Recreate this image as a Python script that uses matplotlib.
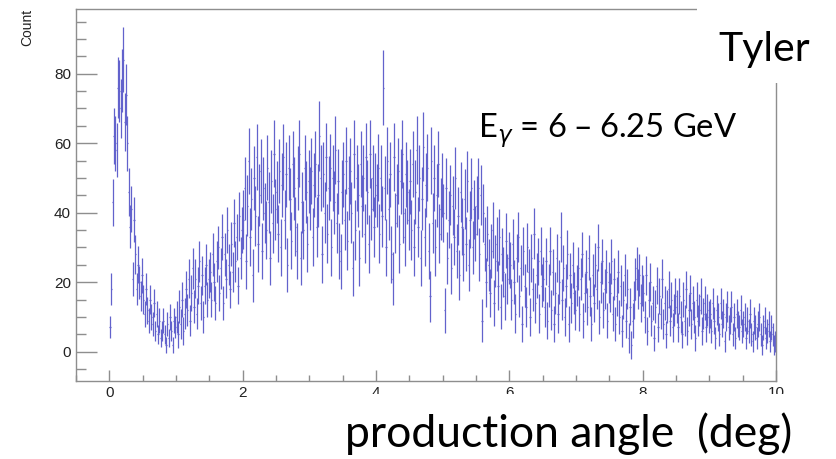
import numpy as np
import matplotlib
matplotlib.use("Agg")
import matplotlib.pyplot as plt
from matplotlib.patches import Rectangle
from matplotlib.ticker import MultipleLocator

# ---- data: counts per 0.02-deg bin ----
counts_0_1 = [7, 18, 43, 62, 60, 58, 76, 75, 70, 78, 84, 66, 74, 60, 46, 36, 41, 21, 38, 28, 18, 25, 20, 16, 22,
              15, 11, 18, 12, 9, 15, 10, 8, 14, 6, 11, 5, 9, 4, 6, 9, 5, 2, 8, 4, 10, 6, 2, 9, 7]
counts_1_2 = [10, 5, 13, 8, 15, 6, 11, 18, 12, 21, 9, 17, 24, 13, 21, 11, 19, 26, 14, 22, 10, 19, 25, 15, 21,
              23, 15, 28, 20, 14, 26, 30, 17, 24, 33, 14, 28, 21, 35, 25, 18, 31, 23, 37, 26, 33, 19, 39, 27, 35]
counts_2_3 = [38, 47, 26, 42, 55, 33, 44, 22, 50, 39, 56, 31, 45, 52, 29, 47, 40, 35, 53, 43, 27, 49, 37, 57, 41,
              46, 34, 52, 30, 48, 56, 38, 51, 25, 53, 44, 32, 54, 47, 36, 29, 50, 57, 27, 43, 35, 53, 46, 31, 49]
counts_3_4 = [44, 52, 33, 48, 54, 36, 45, 62, 50, 28, 51, 40, 56, 34, 47, 53, 30, 50, 43, 58, 37, 49, 29, 26, 46,
              51, 38, 55, 32, 47, 52, 40, 24, 57, 35, 50, 45, 27, 54, 42, 50, 34, 56, 46, 31, 57, 41, 50, 36, 48]
counts_4_5 = [45, 53, 34, 50, 39, 76, 47, 30, 55, 41, 51, 28, 21, 56, 37, 45, 52, 31, 49, 57, 40, 33, 51, 46, 38,
              49, 35, 54, 30, 46, 58, 36, 50, 27, 44, 59, 33, 48, 53, 29, 16, 55, 37, 50, 30, 45, 54, 34, 41, 48]
counts_5_6 = [40, 12, 47, 27, 38, 45, 24, 42, 33, 50, 29, 39, 22, 46, 36, 28, 44, 31, 49, 25, 38, 47, 30, 41, 34,
              42, 47, 28, 45, 9, 40, 31, 20, 34, 25, 17, 29, 35, 14, 26, 31, 19, 33, 13, 28, 23, 16, 32, 21, 27]
counts_6_7 = [25, 15, 31, 20, 11, 27, 33, 16, 24, 8, 29, 19, 13, 30, 23, 10, 27, 18, 34, 14, 22, 26, 11, 29, 19,
              21, 13, 26, 9, 19, 29, 12, 23, 8, 17, 27, 11, 20, 33, 15, 24, 10, 19, 28, 8, 22, 14, 25, 17, 12]
counts_7_8 = [19, 24, 11, 21, 28, 9, 17, 23, 13, 27, 16, 8, 22, 14, 25, 18, 30, 10, 20, 26, 12, 18, 23, 9, 20,
              17, 26, 11, 21, 8, 16, 23, 10, 19, 6, 15, 22, 9, 18, 4, 13, 2, 9, 15, 21, 24, 18, 22, 14, 19]
counts_8_9 = [17, 10, 22, 6, 15, 20, 9, 14, 4, 13, 19, 7, 16, 11, 21, 8, 14, 5, 13, 18, 9, 15, 7, 12, 16,
              13, 7, 16, 10, 5, 15, 9, 18, 6, 12, 17, 8, 14, 10, 4, 15, 9, 12, 16, 6, 11, 14, 7, 12, 10]
counts_9_10 = [11, 6, 14, 9, 4, 12, 10, 5, 14, 8, 11, 3, 10, 13, 7, 9, 13, 5, 10, 4, 11, 8, 7, 12, 6,
               8, 10, 4, 9, 6, 11, 5, 3, 9, 7, 4, 8, 10, 5, 2, 7, 9, 4, 6, 8, 3, 7, 5, 2, 3]
# extra (background-subtraction) variance per 1-degree range
bkg_variance = [3, 10, 35, 38, 38, 30, 20, 15, 10, 6]

x_ticks = [0, 2, 4, 6, 8, 10]
y_ticks = [0, 20, 40, 60, 80]

segments = [counts_0_1, counts_1_2, counts_2_3, counts_3_4, counts_4_5,
            counts_5_6, counts_6_7, counts_7_8, counts_8_9, counts_9_10]
counts = np.concatenate([np.array(s, float) for s in segments])
variance = np.concatenate([np.clip(np.array(s, float), 0, None) + b
                           for s, b in zip(segments, bkg_variance)])
errors = np.sqrt(variance)
edges = np.linspace(0, 10, len(counts) + 1)
centers = 0.5 * (edges[:-1] + edges[1:])
half_width = 0.5 * (edges[1] - edges[0])

W, H = 836, 459
fig = plt.figure(figsize=(W / 100, H / 100), dpi=100)
ax = fig.add_axes([76 / W, 1 - 381 / H, 700 / W, 372 / H])

ax.errorbar(centers, counts, yerr=errors, xerr=half_width, fmt='none',
            ecolor='#6262cc', elinewidth=0.9, capsize=0)

ax.set_xlim(-0.5, 10.0)
ax.set_ylim(-8.4, 98.6)

ax.xaxis.set_minor_locator(MultipleLocator(0.5))
ax.yaxis.set_minor_locator(MultipleLocator(5))
ax.set_xticks(x_ticks)
ax.set_yticks(y_ticks)

spine_col = '#8e8e8e'
for s in ax.spines.values():
    s.set_color(spine_col)
    s.set_linewidth(1.0)

ax.tick_params(axis='both', which='both', direction='in', color=spine_col,
               width=1.0, labelcolor='#222222', labelsize=11,
               top=False, right=False)
ax.tick_params(axis='y', which='major', length=14.9, pad=3.6)
ax.tick_params(axis='y', which='minor', length=7.2)
ax.tick_params(axis='x', which='major', length=8, pad=3.5)
ax.tick_params(axis='x', which='minor', length=4)
for lab in ax.get_xticklabels() + ax.get_yticklabels():
    lab.set_family('Liberation Sans')

fig.text(27 / W, 1 - 9 / H, 'Count', rotation=90, ha='center', va='top',
         fontsize=10, family='Liberation Sans', color='#222222')

# white boxes of the slide text that cover parts of the plot
fig.add_artist(Rectangle((697 / W, 1 - 83 / H), 139 / W, 83 / H,
                         transform=fig.transFigure, facecolor='white',
                         edgecolor='none', zorder=5))
fig.add_artist(Rectangle((300 / W, 0), 536 / W, 1 - 394 / H,
                         transform=fig.transFigure, facecolor='white',
                         edgecolor='none', zorder=5))

fig.text(718 / W, 1 - 61 / H, 'Tyler', fontsize=29.5, family='Lato',
         ha='left', va='baseline', color='black', zorder=6)
fig.text(478 / W, 1 - 137 / H, r'E$_{\gamma}$ = 6 – 6.25 GeV', fontsize=23.5,
         family='Lato', ha='left', va='baseline', color='black', zorder=6)
fig.text(345 / W, 1 - 447 / H, 'production angle  (deg)', fontsize=32,
         family='Lato', ha='left', va='baseline', color='black', zorder=6)

fig.savefig('out.png', dpi=100)
